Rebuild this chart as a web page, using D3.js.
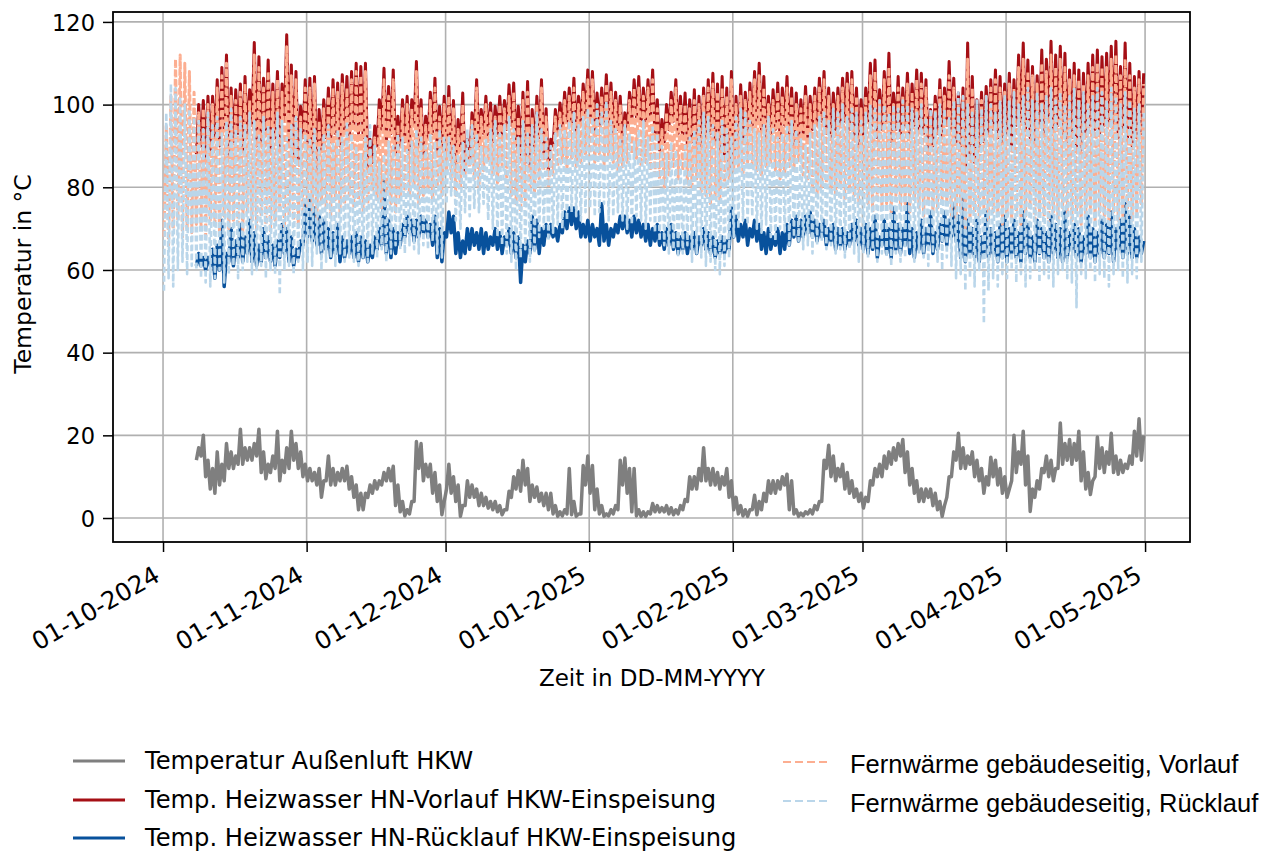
<!DOCTYPE html>
<html>
<meta charset="UTF-8">
<style>
/*  page + text  */
body { margin: 0; background: #fff; }
svg text { font-family: "DejaVu Sans", sans-serif; fill: #000; }
.grid line { stroke: #b0b0b0; stroke-width: 1.6px; }
.axis path { display: none; }
.axis line { stroke: #000; stroke-width: 1.5px; }
.axis text { font-size: 22.5px; }
.frame { fill: none; stroke: #000; stroke-width: 1.8px; }
.series { fill: none; stroke-linejoin: round; }
.legend-right text { font-family: "Liberation Sans", Arial, sans-serif; font-size: 25.5px; }
</style>
<svg width="1287" height="851"></svg>
<script src="https://d3js.org/d3.v7.min.js"></script>
<script>
//  day 0 = 01-10-2024, one low and one high reading per day
var startDay = Date.UTC(2024, 9, 1);
var tickDays = ["2024-10-01", "2024-11-01", "2024-12-01", "2025-01-01",
                "2025-02-01", "2025-03-01", "2025-04-01", "2025-05-01"];
var yTicks = [0, 20, 40, 60, 80, 100, 120];

//  HKW series start on day 7
var hkwStart = 7;

//  Temperatur Außenluft HKW
var aussenLo = [14,15,10,7,6,8,9,12,12,13,13,14,14,15,11,9.5,11,12,9,11,12,14,12,10,
  9,9,8,5,9,8,8,9,9,7,5,2,2,5,6,7,8,9,9,3,1.5,0.5,1,4,12,9,10,6,4,0.8,
  7,6,4,0.4,3,5,5,3,3,2.4,2,1.5,0.8,2,5,7,6.5,8,4,5,4,3,2,1,0.4,0.5,1,0.8,0.4,1,8,6,2,1,0.4,
  0.5,1,2,8,6,1.5,0.5,0.4,0.4,1,1.5,1.5,1.5,1,0.8,1,2,4,7,7,9,9,8,8,7,8,5,2,1,0.5,0.4,2,0.8,2,4,6,6,7,8,2,1,0.4,
  0.5,1,1,2,4,12,10,9,10,7,6,5,4,2.4,4,8,10,10,12,13,14,15,11,8,6,4,4,5,3,2,0.4,5,10,14,12,12,13,10,9,6,8,10,8,6,
  5,9,11,13,8,1.6,5,7,11,10,9,12,13,14,13,14,9,7,5.7,10,12,11,13,11,10.6,11,12,13,15,14];
var aussenHi = [17,20,14,12,16,13,18,16,15,21.5,17,17,18,21.5,16,13,15,21,14,17,21,18,16,13,
  12,11,12,9,15,12,11,12,12.5,10,8,6,6,8,9,9,11,12,12.5,8,4,2,4,18.5,18,13,13,11,8,4,
  13,10,8,3,9,8,7,6,5,4,4,3,2,6.5,10,11.5,14,12,8,7.5,6,6,6,3,1.5,2,12,4,1,12.7,15,12.7,7,3,1,
  2,3,14,14.5,12,12,2,1.5,1.5,3.5,3,2.5,3,2.5,2,3,4.5,10,10,12,17,12,12,11,10,12,9,5,3,2,2,5.5,4,6,9,9,9,10,10.6,9,2,1.2,
  1.5,2,3,4,14,17.6,15,12,13,11,9,7,6,5,9,12,13,15,16,17,18,19,16,12,9,7,7,7,6,4,3,10,16,20.5,17,15,16,14,12,10,14.7,14,12,10,
  7,20,16,21,15,7,9,12,15,14,12,23,18,19,18,21,16,11,9,19.6,17,16,20.5,15,14,13,15,21,24,20];

//  Temp. Heizwasser HN-Vorlauf HKW-Einspeisung
var hnVorLo = [88,90,87,89,
  92,90,94,88,91,93,89,92,95,90, 91,94,89,92,90,96,91,88,86,92,
  90,88,84,89,92,91,93,90,94,92, 95,93,92,85,86,90,94,91,93,88,
  90,91,89,95,90,87,92,93,89,90, 88,87,85,89,84,86,92,90,93,92,
  91,93,92,94,95,90,88,86,84,89, 92,88,84,90,93,94,96,95,93,95,
  97,96,94,95,96,95,93,94,90,94, 96,97,95,96,97,92,89,91,94,96,
  93,92,90,91,88,90,92,93,91,89, 88,84,86,90,92,93,95,96,94,92,
  93,94,92,95,92,90,91,93,92,94, 95,96,93,92,94,95,96,94,92,90,
  92,96,95,92,94,96,91,94,92,95, 93,95,94,93,88,90,93,92,95,94,
  91,90,84,88,86,89,91,93,94,92, 91,93,90,95,96,94,92,90,95,93,
  96,94,95,93,91,92,90,89,93,95, 94,93,95,96,95,92,94,91,90,92,93];
var hnVorHi = [100,101,102,102,106,109,112,104,103.6,105, 106.8,103.6,115,111.6,106.4,110.8,105,108,105,116.9,
  109.6,108,99.6,106,106.4,106.8,98.8,101.2,104,106, 105.2,107.2,106.8,108,110,109.2,110,91.6,94.8,101.2,
  108.8,104.4,108.4,97.2,101.2,102,101.2,110.4,101.2,97.2, 103,106.4,99.6,102,104.4,101,96.4,102.8,91.6,98,
  106,98.8,102,100.4,99.6,102,101,104.8,105.2,99.6, 103,105.6,98.8,102,106,99,91.6,98.8,100.4,103,
  104,106.4,102,105,108.4,108,102.8,104,107.2,105.2, 103,102,98,103,106,106.8,104,106,108.4,101.2,
  96.4,100,103,106,102,102.8,101.2,103.6,102,104, 106,107.6,105,106.8,104,108,102,104.8,103,105.2,
  108,110,106.8,102,103.6,105.2,104,106.8,104,102.8, 101.2,104.4,102,104,106.4,108,104,102.8,104,106.4,
  107.6,108,104,101.2,104,110,110.8,103.6,108,112.4, 102.8,106.8,104,107.6,105,108.4,107.6,106,98.8,102,
  106,104,110.4,106.4,102.8,104,114.9,106.8,101.2,103, 104.4,106,108.4,106.8,105,107.6,106,112,114.9,110.8,
  109.2,107,113.2,111,115.3,112,114.1,112.4,108.4,110, 108.4,107.6,110,112,113.2,111.6,112.4,114.1,115.3,109.2,
  114.9,110,106.8,108,107.6];

//  Temp. Heizwasser HN-Rücklauf HKW-Einspeisung
var hnRueckLo = [61,61,60,61,58,60,56,62,61,63, 62,64,62,61,62,63,62,61,63,64, 62,61,63,66,68,67,66,64,65,63,
  64,62,63,64,63,62,63,62,63,65, 66,64,63,64,66,68,69,67,68,69, 68,66,63,62,68,69,64,63,64,65,
  66,65,64,65,66,65,64,66,64,63, 57,62,64,65,64,66,68,68,67,69, 70,71,70,68,68,67,68,66,67,66,
  68,69,70,69,68,69,68,67,66,67, 66,65,66,65,64,65,64,65,64,66, 65,64,63,64,64,65,68,67,68,66,
  68,67,65,64,65,66,64,65,66,68, 67,68,69,68,67,68,66,67,65,66, 65,66,67,66,65,64,65,63,66,64,
  63,65,64,66,64,63,65,64,66,64, 65,67,66,68,67,63,62,64,63,62, 64,63,64,62,63,62,64,63,62,64,
  63,62,64,63,62,64,63,62,63,65, 63,62,64,63,62,64,63,64,62,65, 63,64,63,63,64];
var hnRueckHi = [64,63,63,65,66,72,64,70,67,71, 68,72,69,66,70,68,66,67,71,70, 68,65,67,76,78,75,73,72,70,69,
  71,68,67,68,69,68,67,66,68,70, 82,72,70,69,71,73,72,72,73,72, 71,73,70,69,74,73,69,67,70,70,
  69,70,69,68,70,69,68,70,69,68, 66,67,73,72,70,71,71,70,71,74, 75,75,74,71,72,71,70,76,71,70,
  71,73,73,72,73,72,71,71,70,71, 69,70,71,69,68,69,68,69,68,70, 69,68,67,68,67,75,73,71,72,70,
  72,71,69,70,68,70,69,71,72,73, 72,73,74,72,71,72,70,71,70,70, 69,71,72,70,71,70,73,68,72,70,
  75,71,70,76,70,69,72,70,74,69, 71,74,72,76,73,78,72,70,72,68, 74,70,69,71,73,70,72,69,74,71,
  68,72,70,69,73,71,70,74,69,71, 70,68,73,70,69,72,71,74,70,72, 76,73,70,68,67];

//  Fernwärme gebäudeseitig, Vorlauf (from day 0)
var fwVorLo = [68,66,70,72,68,70,69,71,70,68,72,71,69,73,70,72,71,69,74,72,70,73,71,69,72,74,70,73,72,71,74,
  75,74,72,76,75,73,77,74,76,78,75,77,74,76,79,77,75,78,76,74,77,79,78,80,76,78,79,77,80,78,
  84,82,78,80,83,85,82,80,84,86,83,81,85,82,78,76,74,77,80,79,82,84,80,83,85,86,84,87,85,86,88,
  87,86,88,85,87,86,84,85,86,88,87,85,86,84,83,82,80,83,85,82,84,81,80,82,79,78,76,78,77,80,82,
  84,85,83,86,85,84,83,85,86,84,82,83,85,84,86,83,82,80,78,80,81,79,78,80,77,79,78,76,
  78,76,74,77,75,76,74,78,75,76,74,77,75,73,76,74,75,77,76,73,72,74,70,72,74,73,75,72,74,73,71,
  73,72,74,71,73,75,72,74,73,71,74,72,75,73,72,74,71,73,75,72,74,73,71,74,72,73,75,72,74,76];
var fwVorHi = [95,102,111,112,110,108,103,
  98,99,100,100,104,107,110,102,101,103, 105,101,112,109,104,108,103,106,103,114,
  107,106,97,104,104,105,96,99,102,104, 103,105,104,106,108,107,108,89,92,99,
  106,102,106,95,99,100,99,108,99,95, 101,104,97,100,102,99,94,100,89,96,
  104,97,100,98,97,100,99,102,103,97, 101,103,97,100,104,97,89,97,98,101,
  102,104,100,103,106,106,100,102,105,103, 101,100,96,101,104,104,102,104,106,99,
  94,98,101,104,100,100,99,101,100,102, 104,105,103,104,102,106,100,102,101,103,
  106,107,104,100,101,103,102,104,102,100, 99,102,100,102,104,106,102,100,102,104,
  105,106,102,99,102,107,108,101,106,109, 100,104,102,105,103,106,105,104,97,100,
  104,102,107,104,100,102,111,104,99,101, 102,104,106,104,103,105,104,109,111,108,
  107,105,110,108,112,109,111,109,106,107, 106,105,107,109,110,109,109,111,112,107,
  111,107,104,106,105];

//  Fernwärme gebäudeseitig, Rücklauf (from day 0)
var fwRueckLo = [55,58,56,60,62,59,61,
  60,58,57,56,58,60,57,59,61,58,60,62,59,60,61,58,60,59,54,60,61,59,62,60,
  62,61,64,60,62,63,61,64,62,63,62,61,63,62,64,63,65,62,64,66,65,64,66,65,64,66,65,67,64,63,
  76,78,72,70,74,73,75,74,76,72,70,68,66,64,62,60,63,65,62,64,68,70,67,69,71,70,72,74,73,72,74,
  75,73,74,76,72,73,74,72,70,71,73,72,70,72,69,67,66,64,65,63,64,66,62,64,63,61,62,60,59,61,63,
  68,70,72,71,73,70,69,71,68,67,70,69,66,68,67,65,66,64,66,67,65,66,64,65,63,65,64,62,
  64,63,65,62,64,63,61,64,62,63,65,62,64,63,61,64,62,60,63,61,58,59,55,58,56,60,47,55,58,56,59,
  58,60,57,59,56,58,60,57,59,58,56,59,60,58,57,51,59,58,60,57,59,58,56,59,60,58,57,59,58,62];
var fwRueckHi = [98,105,104,102,100,99,97,
  96,94,98,95,97,93,96,99,94,97,95,98,96,93,97,95,94,98,96,92,95,97,94,93,
  92,94,90,93,95,91,94,92,96,93,90,88,92,95,90,86,88,91,90,93,92,89,91,94,92,90,93,91,94,92,
  92,90,88,91,94,95,93,90,92,94,96,93,95,97,94,92,96,93,95,98,94,92,90,93,95,94,96,98,95,97,99,
  97,100,98,101,96,94,92,95,93,91,94,96,92,95,93,90,88,91,89,87,90,92,94,96,98,97,95,93,96,94,92,
  97,99,98,96,94,93,95,97,94,92,93,95,96,94,92,90,93,95,97,98,96,99,98,100,97,99,98,96,
  98,100,99,101,100,98,100,99,101,100,99,98,100,97,99,98,100,99,97,101,103,102,100,98,101,99,102,100,98,101,102,
  101,103,100,102,104,101,103,100,102,104,101,103,100,102,104,101,103,100,102,104,103,101,104,102,100,103,101,99,100,98];

//  svg and sizing
var svg = d3.select("svg");
var margin = { left: 113, right: 1190, top: 12, bottom: 542 };

function dayDate(d) { return new Date(startDay + d * 864e5); }

var x = d3.scaleUtc()
    .domain([dayDate(-10.8), dayDate(221.7)])
    .range([margin.left, margin.right]);
var y = d3.scaleLinear()
    .domain([-5.8, 122.4])
    .range([margin.bottom, margin.top]);

var tickDates = tickDays.map(function(s) { return new Date(s + "T00:00:00Z"); });

//  grid
var grid = svg.append("g").attr("class", "grid");
grid.selectAll(".gx").data(tickDates).enter().append("line")
    .attr("x1", function(d) { return x(d); }).attr("x2", function(d) { return x(d); })
    .attr("y1", margin.top).attr("y2", margin.bottom);
grid.selectAll(".gy").data(yTicks).enter().append("line")
    .attr("x1", margin.left).attr("x2", margin.right)
    .attr("y1", function(d) { return y(d); }).attr("y2", function(d) { return y(d); });

//  series: low then high reading for every day
function readings(lo, hi, first) {
    var pts = [];
    for (var i = 0; i < lo.length; i++) {
        pts.push([first + i + 0.2, lo[i]]);
        pts.push([first + i + 0.7, hi[i]]);
    }
    return pts;
}

var line = d3.line()
    .x(function(p) { return x(dayDate(p[0])); })
    .y(function(p) { return y(p[1]); });

var series = [
    { lo: aussenLo,  hi: aussenHi,  first: hkwStart, color: "#7f7f7f", width: 3.5, dash: null },
    { lo: hnVorLo,   hi: hnVorHi,   first: hkwStart, color: "#a50f15", width: 3,   dash: null },
    { lo: hnRueckLo, hi: hnRueckHi, first: hkwStart, color: "#08519c", width: 3.5, dash: null },
    { lo: fwVorLo,   hi: fwVorHi,   first: 0,        color: "#fcae91", width: 3,   dash: "7,2.5" },
    { lo: fwRueckLo, hi: fwRueckHi, first: 0,        color: "#bad6ea", width: 2.6, dash: "6,3" }
];

svg.append("g").selectAll("path").data(series).enter().append("path")
    .attr("class", "series")
    .attr("d", function(s) { return line(readings(s.lo, s.hi, s.first)); })
    .attr("stroke", function(s) { return s.color; })
    .attr("stroke-width", function(s) { return s.width; })
    .attr("stroke-dasharray", function(s) { return s.dash; });

//  axes
var yAxis = svg.append("g").attr("class", "axis")
    .attr("transform", "translate(" + margin.left + ",0)")
    .call(d3.axisLeft(y).tickValues(yTicks).tickSize(10).tickPadding(8));
yAxis.selectAll("text").attr("dy", "0.36em");

var xAxis = svg.append("g").attr("class", "axis")
    .attr("transform", "translate(0," + margin.bottom + ")")
    .call(d3.axisBottom(x).tickValues(tickDates).tickSize(10)
        .tickFormat(d3.utcFormat("%d-%m-%Y")));
xAxis.selectAll("text")
    .style("font-size", "24.5px")
    .attr("text-anchor", "end")
    .attr("y", 0).attr("dy", "-0.24em")
    .attr("transform", "translate(1,43) rotate(-30)");

svg.append("rect").attr("class", "frame")
    .attr("x", margin.left).attr("y", margin.top)
    .attr("width", margin.right - margin.left).attr("height", margin.bottom - margin.top);

//  axis labels
svg.append("text").attr("x", 652).attr("y", 686)
    .attr("text-anchor", "middle").style("font-size", "23px")
    .text("Zeit in DD-MM-YYYY");
svg.append("text").attr("transform", "translate(31,274) rotate(-90)")
    .attr("text-anchor", "middle").style("font-size", "23.5px")
    .text("Temperatur in °C");

//  legend
var legLeft = [
    { name: "Temperatur Außenluft HKW", color: "#7f7f7f", y: 761 },
    { name: "Temp. Heizwasser HN-Vorlauf HKW-Einspeisung", color: "#a50f15", y: 800 },
    { name: "Temp. Heizwasser HN-Rücklauf HKW-Einspeisung", color: "#08519c", y: 838 }
];
var legRight = [
    { name: "Fernwärme gebäudeseitig, Vorlauf", color: "#fcae91", y: 762 },
    { name: "Fernwärme gebäudeseitig, Rücklauf", color: "#bad6ea", y: 801 }
];

var gl = svg.append("g");
gl.selectAll("line").data(legLeft).enter().append("line")
    .attr("x1", 73).attr("x2", 125)
    .attr("y1", function(d) { return d.y; }).attr("y2", function(d) { return d.y; })
    .attr("stroke", function(d) { return d.color; }).attr("stroke-width", 3);
gl.selectAll("text").data(legLeft).enter().append("text")
    .attr("x", 145).attr("y", function(d) { return d.y + 8; })
    .style("font-size", "24.2px")
    .text(function(d) { return d.name; });

var gr = svg.append("g").attr("class", "legend-right");
gr.selectAll("line").data(legRight).enter().append("line")
    .attr("x1", 783).attr("x2", 830)
    .attr("y1", function(d) { return d.y; }).attr("y2", function(d) { return d.y; })
    .attr("stroke", function(d) { return d.color; }).attr("stroke-width", 2.2)
    .attr("stroke-dasharray", "8,4");
gr.selectAll("text").data(legRight).enter().append("text")
    .attr("x", 850).attr("y", function(d) { return d.y + 10.5; })
    .text(function(d) { return d.name; });
</script>
